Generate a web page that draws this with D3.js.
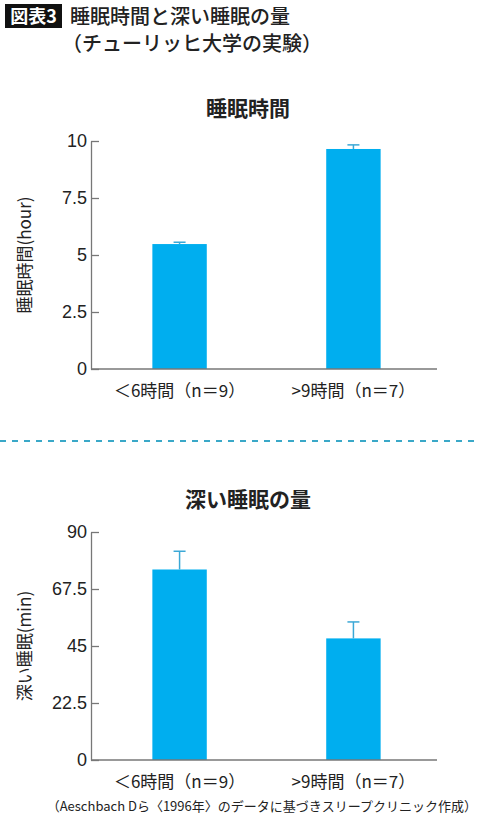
<!DOCTYPE html>
<html>
<head>
<meta charset="utf-8">
<script src="https://cdn.jsdelivr.net/npm/d3@7"></script>
<style>
  body { margin: 0; background: #fff; }
  svg { display: block; font-family: "Noto Sans CJK JP", "Noto Sans", sans-serif; }
</style>
</head>
<body>
<svg id="chart" width="480" height="820"></svg>
<script>
// data
const groups = ['＜6時間（n＝9）', '>9時間（n＝7）'];
const sleepHours = [5.48, 9.65];
const sleepHoursErr = [0.08, 0.18];
const hourTicks = [0, 2.5, 5, 7.5, 10];
const deepSleepMin = [75.2, 48.0];
const deepSleepErr = [7.2, 6.5];
const minTicks = [0, 22.5, 45, 67.5, 90];

const BAR = '#00aeef';
const ERR = '#3ba8d6';
const AXIS = '#777';
const TEXT = '#222';

const svg = d3.select('#chart');

// header
svg.append('rect')
    .attr('x', 5).attr('y', 4)
    .attr('width', 57).attr('height', 24)
    .attr('fill', '#111');
svg.append('text')
    .attr('x', 33.5).attr('y', 23)
    .attr('text-anchor', 'middle')
    .attr('fill', '#fff')
    .attr('font-size', 18)
    .attr('font-weight', 700)
    .text('図表3');
svg.append('text')
    .attr('x', 70).attr('y', 24)
    .attr('fill', TEXT)
    .attr('font-size', 20)
    .attr('font-weight', 500)
    .text('睡眠時間と深い睡眠の量');
svg.append('text')
    .attr('x', 62).attr('y', 51)
    .attr('fill', TEXT)
    .attr('font-size', 20)
    .attr('font-weight', 500)
    .text('（チューリッヒ大学の実験）');

// separator
svg.append('line')
    .attr('x1', 0).attr('x2', 480)
    .attr('y1', 441).attr('y2', 441)
    .attr('stroke', '#3aa8c8')
    .attr('stroke-width', 2)
    .attr('stroke-dasharray', '6,6');

// footnote
svg.append('text')
    .attr('x', 477).attr('y', 811)
    .attr('text-anchor', 'end')
    .attr('fill', TEXT)
    .attr('font-size', 13)
    .text('（Aeschbach Dら〈1996年〉のデータに基づきスリープクリニック作成）');

function drawPanel(opt) {
    const x = d3.scaleBand()
        .domain(groups)
        .range([91, 442])
        .paddingInner(0.687)
        .paddingOuter(0.353);
    const y = d3.scaleLinear()
        .domain([0, opt.max])
        .range([opt.bottom, opt.top]);

    const g = svg.append('g');

    // title
    g.append('text')
        .attr('x', 248).attr('y', opt.titleY)
        .attr('text-anchor', 'middle')
        .attr('fill', TEXT)
        .attr('font-size', 21)
        .attr('font-weight', 700)
        .text(opt.title);

    // bars
    g.selectAll('rect.bar')
        .data(opt.values)
        .enter()
        .append('rect')
        .attr('class', 'bar')
        .attr('x', (d, i) => x(groups[i]))
        .attr('y', d => y(d))
        .attr('width', x.bandwidth())
        .attr('height', d => opt.bottom - y(d))
        .attr('fill', BAR);

    // error bars (upper only)
    const err = g.selectAll('g.err')
        .data(opt.values)
        .enter()
        .append('g')
        .attr('class', 'err')
        .attr('stroke', ERR)
        .attr('stroke-width', 1.5);
    err.append('line')
        .attr('x1', (d, i) => x(groups[i]) + x.bandwidth() / 2)
        .attr('x2', (d, i) => x(groups[i]) + x.bandwidth() / 2)
        .attr('y1', d => y(d))
        .attr('y2', (d, i) => y(d + opt.errors[i]));
    err.append('line')
        .attr('x1', (d, i) => x(groups[i]) + x.bandwidth() / 2 - 6)
        .attr('x2', (d, i) => x(groups[i]) + x.bandwidth() / 2 + 6)
        .attr('y1', (d, i) => y(d + opt.errors[i]))
        .attr('y2', (d, i) => y(d + opt.errors[i]));

    // y axis
    const yAxis = g.append('g')
        .attr('transform', 'translate(91,0)')
        .call(d3.axisLeft(y)
            .tickValues(opt.ticks)
            .tickSizeInner(-8)
            .tickSizeOuter(0)
            .tickPadding(4)
            .tickFormat(d3.format('')));
    yAxis.selectAll('path, line').attr('stroke', AXIS).attr('stroke-width', 1.3);
    yAxis.selectAll('text')
        .attr('fill', TEXT)
        .attr('font-size', 18)
        .attr('font-family', '"Liberation Sans", Arial, sans-serif');

    // x baseline
    g.append('line')
        .attr('x1', 91).attr('x2', 437)
        .attr('y1', opt.bottom).attr('y2', opt.bottom)
        .attr('stroke', AXIS)
        .attr('stroke-width', 1.3);

    // x labels
    g.selectAll('text.xl')
        .data(groups)
        .enter()
        .append('text')
        .attr('class', 'xl')
        .attr('x', d => x(d) + x.bandwidth() / 2)
        .attr('y', opt.bottom + 28)
        .attr('text-anchor', 'middle')
        .attr('fill', TEXT)
        .attr('font-size', 17)
        .text(d => d);

    // y label
    g.append('text')
        .attr('transform', `translate(31,${(opt.top + opt.bottom) / 2}) rotate(-90)`)
        .attr('text-anchor', 'middle')
        .attr('fill', TEXT)
        .attr('font-size', 17)
        .text(opt.yLabel);
}

drawPanel({
    title: '睡眠時間', titleY: 116,
    values: sleepHours, errors: sleepHoursErr, ticks: hourTicks, max: 10,
    top: 141, bottom: 369, yLabel: '睡眠時間(hour)'
});
drawPanel({
    title: '深い睡眠の量', titleY: 507,
    values: deepSleepMin, errors: deepSleepErr, ticks: minTicks, max: 90,
    top: 532, bottom: 760, yLabel: '深い睡眠(min)'
});
</script>
</body>
</html>
